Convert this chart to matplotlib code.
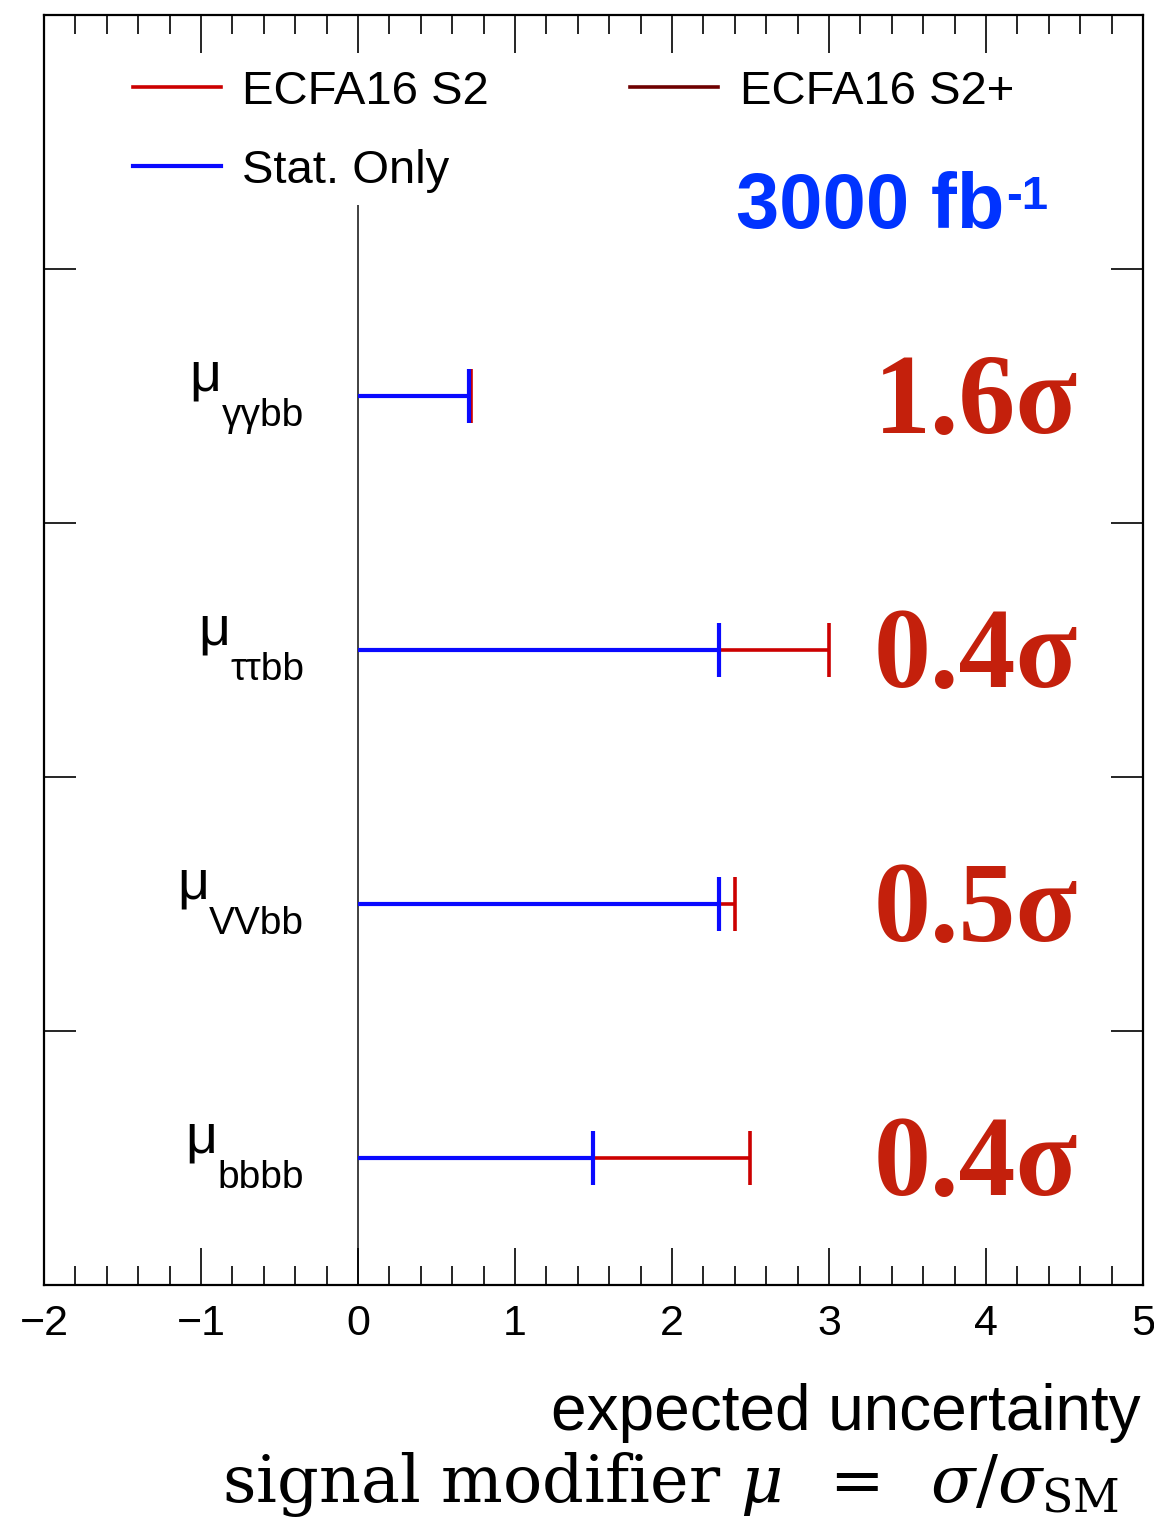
import matplotlib
matplotlib.use('Agg')
import matplotlib.pyplot as plt
import matplotlib.transforms as mtransforms
from matplotlib.lines import Line2D
from matplotlib.ticker import MultipleLocator

# expected uncertainty on the signal modifier, per channel (bottom to top)
channels = ['bbbb', 'VVbb', 'ττbb', 'γγbb']
rows = [0.5, 1.5, 2.5, 3.5]
stat_only = [1.50, 2.30, 2.30, 0.71]
ecfa_s2 = [2.50, 2.40, 3.00, 0.72]
significance = ['0.4σ', '0.5σ', '0.4σ', '1.6σ']

blue = '#0a0aff'
red = '#cc0000'
darkred = '#6e0000'
sig_red = '#c4200c'

plt.rcParams['font.family'] = ['Liberation Sans', 'DejaVu Sans']
plt.rcParams['mathtext.fontset'] = 'dejavuserif'

fig = plt.figure(figsize=(11.54, 15.25), dpi=100)
ax = fig.add_axes([0.0381, 0.1574, 0.9523, 0.8328])
ax.set_xlim(-2, 5)
ax.set_ylim(0, 5)

# vertical line at zero
ax.vlines(0, 0, 4.25, color='#333333', lw=1.3, zorder=1)

cap = 0.108
for y, s, r in zip(rows, stat_only, ecfa_s2):
    ax.hlines(y, 0, r, color=red, lw=2.6, zorder=2)
    ax.vlines(r, y - cap, y + cap, color=red, lw=2.6, zorder=2)
    ax.hlines(y, 0, s, color=blue, lw=3.0, zorder=3)
    ax.vlines(s, y - cap, y + cap, color=blue, lw=3.0, zorder=3)

# channel labels
lab_tr = mtransforms.blended_transform_factory(ax.transAxes, ax.transData)
for y, ch in zip(rows, channels):
    sub = ax.text(0.2366, y - 0.12, ch, transform=lab_tr, ha='right',
                  va='baseline', fontsize=28)
    ax.annotate('μ', xy=(0, 1), xycoords=sub, xytext=(0, 6),
                textcoords='offset points', ha='right', va='baseline',
                fontsize=40)

# significance labels
for y, sig in zip(rows, significance):
    ax.text(0.941, y - 0.146, sig, transform=lab_tr, ha='right', va='baseline',
            fontsize=82, fontweight='bold', family='Liberation Serif',
            color=sig_red)

lumi = ax.text(0.630, 0.8325, '3000 fb', transform=ax.transAxes,
               fontsize=56, fontweight='bold', color='#0033ff', va='baseline')
ax.annotate('-1', xy=(1, 1), xycoords=lumi, xytext=(1, -3),
            textcoords='offset points', ha='left', va='top',
            fontsize=34, fontweight='bold', color='#0033ff')

handles = [Line2D([], [], color=red, lw=2.6),
           Line2D([], [], color=blue, lw=3.0),
           Line2D([], [], color=darkred, lw=2.6)]
ax.legend(handles, ['ECFA16 S2', 'Stat. Only', 'ECFA16 S2+'], ncol=2,
          loc='upper left', bbox_to_anchor=(0.081, 0.957), frameon=False,
          fontsize=34, handlelength=1.86, handletextpad=0.45,
          columnspacing=3.0, labelspacing=0.75, borderpad=0,
          borderaxespad=0)

# ticks
ax.xaxis.set_major_locator(MultipleLocator(1))
ax.xaxis.set_minor_locator(MultipleLocator(0.2))
ax.set_yticks([1, 2, 3, 4])
ax.set_yticklabels([])
ax.tick_params(axis='x', which='major', direction='in', top=True,
               length=27, width=1.2, labelsize=31, pad=14)
ax.tick_params(axis='x', which='minor', direction='in', top=True,
               length=14, width=1.2)
ax.tick_params(axis='y', which='major', direction='in', right=True,
               length=23, width=1.2)
for sp in ax.spines.values():
    sp.set_linewidth(1.6)

fig.text(0.988, 0.0625, 'expected uncertainty', ha='right', va='baseline',
         fontsize=46)
fig.text(0.192, 0.015,
         'signal modifier $\\mu\\;\\;=\\;\\;\\sigma/\\sigma_{\\mathrm{SM}}$',
         ha='left', va='baseline', fontsize=47, family='DejaVu Serif')

fig.savefig('out.png', dpi=100)
